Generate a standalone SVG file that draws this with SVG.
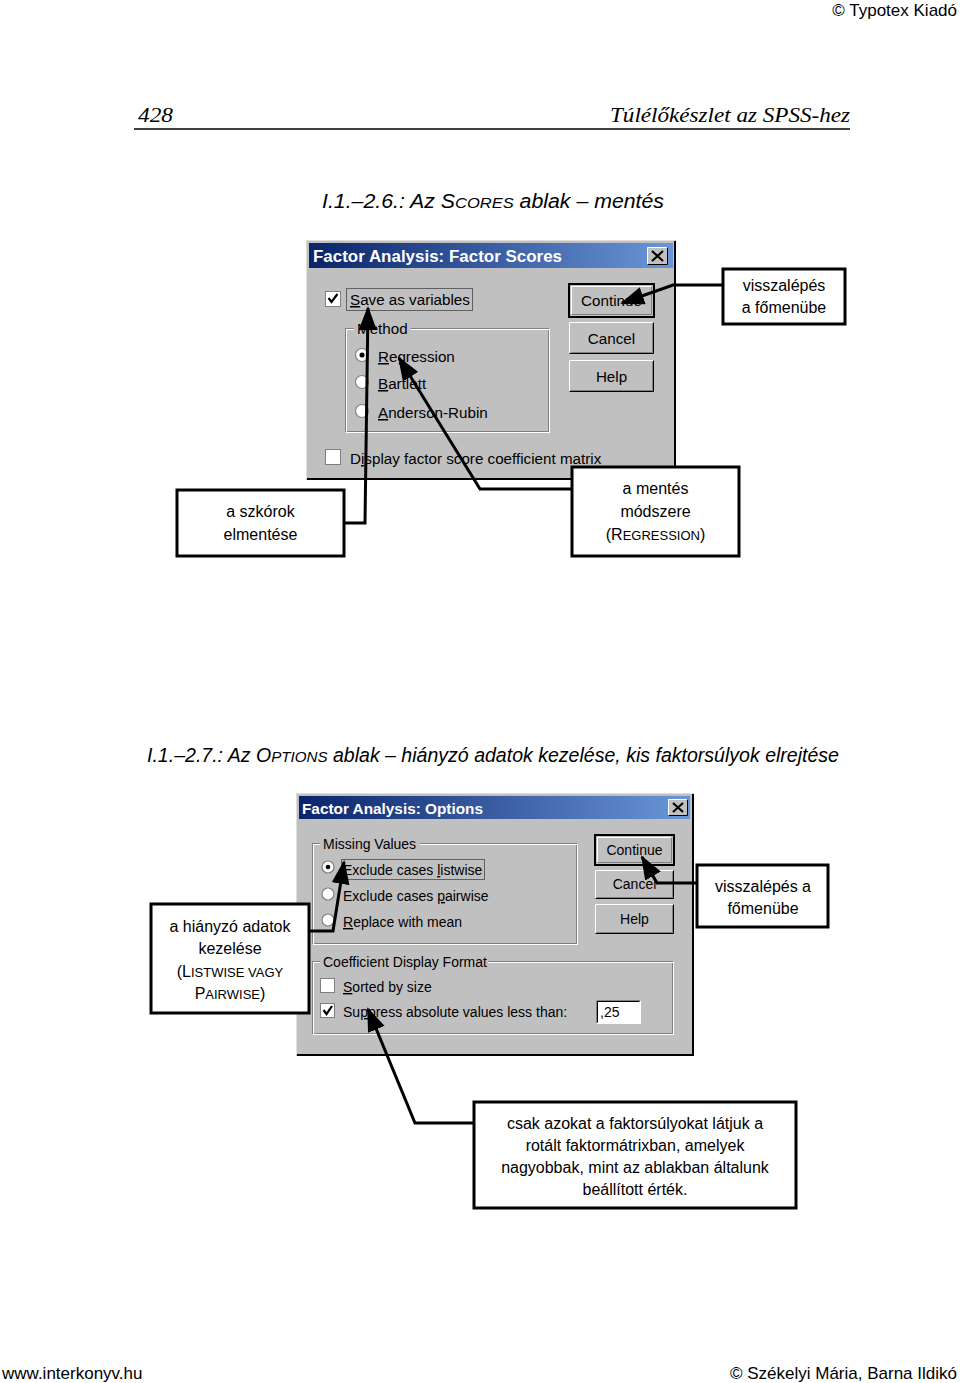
<svg xmlns="http://www.w3.org/2000/svg" width="960" height="1383" viewBox="0 0 960 1383">
<defs>
<linearGradient id="tb" x1="0" y1="0" x2="1" y2="0">
<stop offset="0" stop-color="#0a246a"/>
<stop offset="1" stop-color="#6a96d8"/>
</linearGradient>
<marker id="arrow" markerUnits="userSpaceOnUse" markerWidth="24" markerHeight="18" refX="22" refY="9" orient="auto">
<path d="M0,0 L24,9 L0,18 z" fill="#000"/>
</marker>
<style>
.page { font-family: "Liberation Sans", Arial, sans-serif; fill: #000; }
.serif { font-family: "Liberation Serif", "Times New Roman", serif; font-style: italic; font-size: 20px; fill: #000; }
.cap { font-family: "Liberation Sans", Arial, sans-serif; font-style: italic; font-size: 20px; fill: #000; }
.dlg { fill: #c0c0c0; }
.d1 { font-family: "Liberation Sans", Arial, sans-serif; font-size: 15.2px; fill: #000; }
.d2 { font-family: "Liberation Sans", Arial, sans-serif; font-size: 14px; fill: #000; }
.title { font-family: "Liberation Sans", Arial, sans-serif; font-weight: bold; fill: #fff; }
.btxt { text-anchor: middle; }
.hl { fill: none; stroke: #fff; stroke-width: 1; }
.sh { fill: none; stroke: #808080; stroke-width: 1; }
.dk { fill: none; stroke: #000; stroke-width: 1; }
.grp1 { fill: none; stroke: #808080; stroke-width: 1; }
.grp2 { fill: none; stroke: #fff; stroke-width: 1; }
.focus { fill: none; stroke: #000; stroke-width: 1; stroke-dasharray: 1 1; }
.chk { fill: #fff; stroke: #808080; stroke-width: 1; }
.mark { fill: none; stroke: #000; stroke-width: 2.2; }
.radio { fill: #fff; stroke: #808080; stroke-width: 1.2; }
.callout { fill: #fff; stroke: #000; stroke-width: 3; }
.ct { font-family: "Liberation Sans", Arial, sans-serif; font-size: 16px; text-anchor: middle; fill: #000; }
.conn { fill: none; stroke: #000; stroke-width: 3; stroke-linejoin: miter; marker-end: url(#arrow); }
.u { text-decoration: underline; }
</style>
</defs>
<rect x="0" y="0" width="960" height="1383" fill="#fff"/>

<g id="header">
<text class="page" x="957" y="16" font-size="17" text-anchor="end">© Typotex Kiadó</text>
<text class="serif" x="138" y="122" textLength="35" lengthAdjust="spacingAndGlyphs">428</text>
<text class="serif" x="850" y="122" text-anchor="end" textLength="240" lengthAdjust="spacingAndGlyphs">Túlélőkészlet az SPSS-hez</text>
<line x1="134" y1="129" x2="850" y2="129" stroke="#000" stroke-width="1.5"/>
</g>

<g id="caption1">
<text class="cap" x="322" y="208" textLength="342" lengthAdjust="spacingAndGlyphs">I.1.–2.6.: Az S<tspan font-size="15.5">CORES</tspan> ablak – mentés</text>
</g>

<g id="dialog-scores">
<rect class="dlg" x="306" y="240" width="370" height="240"/>
<path d="M306.5,479 V240.5 H675" stroke="#dfdfdf" fill="none"/>
<path d="M307,479 H675 V241" stroke="#000" stroke-width="2" fill="none"/>
<rect x="309" y="243" width="364" height="25" fill="url(#tb)"/>
<text class="title" x="313" y="262" font-size="16.8" textLength="249" lengthAdjust="spacingAndGlyphs">Factor Analysis: Factor Scores</text>
<g id="close1">
<rect x="647" y="247" width="21" height="18" fill="#c0c0c0"/>
<path class="hl" d="M647.5,264.5 V247.5 H667.5"/>
<path class="dk" d="M647.5,264.5 H667.5 V247.5"/>
<path d="M652,251 L663,261 M663,251 L652,261" stroke="#000" stroke-width="2.2"/>
</g>
<rect class="chk" x="325.5" y="291.5" width="15" height="15"/>
<path class="mark" d="M328.5,298 L331.5,302 L337.5,294"/>
<text class="d1" x="350" y="305"><tspan class="u">S</tspan>ave as variables</text>
<rect class="focus" x="346.5" y="288.5" width="126" height="22"/>
<rect class="grp1" x="345.5" y="328.5" width="203" height="103"/>
<rect class="grp2" x="346.5" y="329.5" width="203" height="103"/>
<rect class="dlg" x="354" y="320" width="57" height="16"/>
<text class="d1" x="357" y="334">Method</text>
<circle class="radio" cx="362" cy="355" r="6.5"/>
<circle cx="362" cy="355" r="2.5" fill="#000"/>
<circle class="radio" cx="362" cy="382" r="6.5"/>
<circle class="radio" cx="362" cy="411" r="6.5"/>
<text class="d1" x="378" y="362"><tspan class="u">R</tspan>egression</text>
<text class="d1" x="378" y="389"><tspan class="u">B</tspan>artlett</text>
<text class="d1" x="378" y="418"><tspan class="u">A</tspan>nderson-Rubin</text>
<g id="btn-continue1">
<rect x="569" y="284" width="85" height="33" fill="#c0c0c0" stroke="#000" stroke-width="2"/>
<path class="hl" d="M571.5,314.5 V286.5 H651.5"/>
<path class="sh" d="M571.5,314.5 H651.5 V286.5"/>
<text class="d1 btxt" x="611.5" y="306">Continue</text>
</g>
<g id="btn-cancel1">
<rect x="569" y="322" width="85" height="32" fill="#c0c0c0"/>
<path class="hl" d="M569.5,353.5 V322.5 H653.5"/>
<path class="dk" d="M569.5,353.5 H653.5 V322.5"/>
<path class="sh" d="M570.5,352.5 H652.5 V323.5"/>
<text class="d1 btxt" x="611.5" y="344">Cancel</text>
</g>
<g id="btn-help1">
<rect x="569" y="360" width="85" height="32" fill="#c0c0c0"/>
<path class="hl" d="M569.5,391.5 V360.5 H653.5"/>
<path class="dk" d="M569.5,391.5 H653.5 V360.5"/>
<path class="sh" d="M570.5,390.5 H652.5 V361.5"/>
<text class="d1 btxt" x="611.5" y="382">Help</text>
</g>
<rect class="chk" x="325.5" y="449.5" width="15" height="15"/>
<text class="d1" x="350" y="464">D<tspan class="u">i</tspan>splay factor score coefficient matrix</text>
</g>

<g id="callout-vissza1">
<rect class="callout" x="723" y="269" width="122" height="55"/>
<text class="ct" x="784" y="291">visszalépés</text>
<text class="ct" x="784" y="313">a főmenübe</text>
</g>
<g id="callout-szkorok">
<rect class="callout" x="177" y="490" width="167" height="66"/>
<text class="ct" x="260.5" y="517">a szkórok</text>
<text class="ct" x="260.5" y="540">elmentése</text>
</g>
<g id="callout-mentes">
<rect class="callout" x="572" y="467" width="167" height="89"/>
<text class="ct" x="655.5" y="494">a mentés</text>
<text class="ct" x="655.5" y="517">módszere</text>
<text class="ct" x="655.5" y="540">(R<tspan font-size="13">EGRESSION</tspan>)</text>
</g>

<g id="caption2">
<text class="cap" x="147" y="762" textLength="692" lengthAdjust="spacingAndGlyphs">I.1.–2.7.: Az O<tspan font-size="15.5">PTIONS</tspan> ablak – hiányzó adatok kezelése, kis faktorsúlyok elrejtése</text>
</g>

<g id="dialog-options">
<rect class="dlg" x="296" y="793" width="398" height="263"/>
<path d="M296.5,1055 V793.5 H693" stroke="#dfdfdf" fill="none"/>
<path d="M297,1055 H693 V794" stroke="#000" stroke-width="2" fill="none"/>
<rect x="299" y="796" width="391" height="23" fill="url(#tb)"/>
<text class="title" x="302" y="814" font-size="15.2" textLength="181" lengthAdjust="spacingAndGlyphs">Factor Analysis: Options</text>
<g id="close2">
<rect x="668" y="799" width="20" height="17" fill="#c0c0c0"/>
<path class="hl" d="M668.5,815.5 V799.5 H687.5"/>
<path class="dk" d="M668.5,815.5 H687.5 V799.5"/>
<path d="M673,803 L683,812 M683,803 L673,812" stroke="#000" stroke-width="2.2"/>
</g>
<rect class="grp1" x="312.5" y="843.5" width="264" height="100"/>
<rect class="grp2" x="313.5" y="844.5" width="264" height="100"/>
<rect class="dlg" x="320" y="836" width="100" height="15"/>
<text class="d2" x="323" y="849">Missing Values</text>
<circle class="radio" cx="328" cy="867" r="6"/>
<circle cx="328" cy="867" r="2.3" fill="#000"/>
<circle class="radio" cx="328" cy="894" r="6"/>
<circle class="radio" cx="328" cy="920" r="6"/>
<text class="d2" x="343" y="875">Exclude cases <tspan class="u">l</tspan>istwise</text>
<rect class="focus" x="341.5" y="859.5" width="143" height="20"/>
<text class="d2" x="343" y="901">Exclude cases <tspan class="u">p</tspan>airwise</text>
<text class="d2" x="343" y="927"><tspan class="u">R</tspan>eplace with mean</text>
<g id="btn-continue2">
<rect x="595" y="835" width="79" height="30" fill="#c0c0c0" stroke="#000" stroke-width="2"/>
<path class="hl" d="M597.5,862.5 V837.5 H671.5"/>
<path class="sh" d="M597.5,862.5 H671.5 V837.5"/>
<text class="d2 btxt" x="634.5" y="855">Continue</text>
</g>
<g id="btn-cancel2">
<rect x="595" y="870" width="79" height="29" fill="#c0c0c0"/>
<path class="hl" d="M595.5,898.5 V870.5 H673.5"/>
<path class="dk" d="M595.5,898.5 H673.5 V870.5"/>
<path class="sh" d="M596.5,897.5 H672.5 V871.5"/>
<text class="d2 btxt" x="634.5" y="889">Cancel</text>
</g>
<g id="btn-help2">
<rect x="595" y="904" width="79" height="30" fill="#c0c0c0"/>
<path class="hl" d="M595.5,933.5 V904.5 H673.5"/>
<path class="dk" d="M595.5,933.5 H673.5 V904.5"/>
<path class="sh" d="M596.5,932.5 H672.5 V905.5"/>
<text class="d2 btxt" x="634.5" y="924">Help</text>
</g>
<rect class="grp1" x="312.5" y="961.5" width="360" height="72"/>
<rect class="grp2" x="313.5" y="962.5" width="360" height="72"/>
<rect class="dlg" x="320" y="954" width="168" height="15"/>
<text class="d2" x="323" y="967">Coefficient Display Format</text>
<rect class="chk" x="320.5" y="978.5" width="14" height="14"/>
<text class="d2" x="343" y="992"><tspan class="u">S</tspan>orted by size</text>
<rect class="chk" x="320.5" y="1003.5" width="14" height="14"/>
<path class="mark" d="M323.5,1010 L326.5,1014 L332,1006"/>
<text class="d2" x="343" y="1017">Su<tspan class="u">p</tspan>press absolute values less than:</text>
<rect x="596" y="1000" width="45" height="24" fill="#fff"/>
<path class="sh" d="M596.5,1023.5 V1000.5 H640.5"/>
<path d="M597.5,1022.5 V1001.5 H639.5" stroke="#000" fill="none"/>
<text class="d2" x="600" y="1017">,25</text>
</g>

<g id="callout-hianyzo">
<rect class="callout" x="151" y="904" width="158" height="109"/>
<text class="ct" x="230" y="932">a hiányzó adatok</text>
<text class="ct" x="230" y="954">kezelése</text>
<text class="ct" x="230" y="977">(L<tspan font-size="13">ISTWISE VAGY</tspan></text>
<text class="ct" x="230" y="999">P<tspan font-size="13">AIRWISE</tspan>)</text>
</g>
<g id="callout-vissza2">
<rect class="callout" x="697" y="865" width="131" height="62"/>
<text class="ct" x="763" y="892">visszalépés a</text>
<text class="ct" x="763" y="914">főmenübe</text>
</g>
<g id="callout-csak">
<rect class="callout" x="474" y="1102" width="322" height="106"/>
<text class="ct" x="635" y="1129">csak azokat a faktorsúlyokat látjuk a</text>
<text class="ct" x="635" y="1151">rotált faktormátrixban, amelyek</text>
<text class="ct" x="635" y="1173">nagyobbak, mint az ablakban általunk</text>
<text class="ct" x="635" y="1195">beállított érték.</text>
</g>

<g id="connectors">
<polyline class="conn" points="723,285 673,285 622,303"/>
<polyline class="conn" points="344,523 365,523 368,308"/>
<polyline class="conn" points="572,489 480,489 399,358"/>
<polyline class="conn" points="309,931 333,931 344,862"/>
<polyline class="conn" points="697,883 657,883 642,857"/>
<polyline class="conn" points="474,1123 415,1123 368,1009"/>
</g>

<g id="footer">
<text class="page" x="2" y="1379" font-size="17">www.interkonyv.hu</text>
<text class="page" x="957" y="1379" font-size="17" text-anchor="end">© Székelyi Mária, Barna Ildikó</text>
</g>
</svg>
